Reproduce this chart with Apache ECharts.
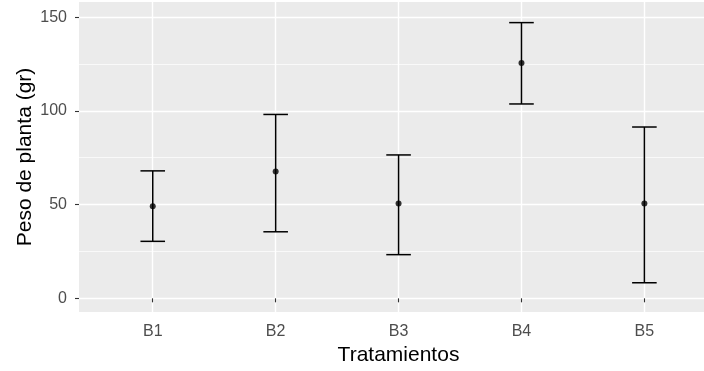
<!DOCTYPE html>
<html>
<head>
<meta charset="utf-8">
<script src="https://cdn.jsdelivr.net/npm/echarts@6/dist/echarts.min.js"></script>
<style>
  html, body { margin: 0; padding: 0; background: #ffffff; }
  #chart { width: 704px; height: 371px; }
</style>
</head>
<body>
<div id="chart"></div>
<script>
// ---- data ----
const categories = ['B1', 'B2', 'B3', 'B4', 'B5'];
const meanValues = [49.1, 67.6, 50.6, 125.5, 50.6];
const lowerValues = [30.4, 35.5, 23.3, 103.7, 8.3];
const upperValues = [68.0, 98.1, 76.5, 147.1, 91.4];
const yMajorTicks = [0, 50, 100, 150];
const yMinorTicks = [25, 75, 125];
const xAxisTitle = 'Tratamientos';
const yAxisTitle = 'Peso de planta (gr)';

const xPositions = categories.map((c, i) => i + 1);
const pointData = categories.map((c, i) => [i + 1, meanValues[i]]);
const barData = categories.map((c, i) => [i + 1, lowerValues[i], upperValues[i]]);

const FONT = '"Liberation Sans", Arial, sans-serif';
const chart = echarts.init(document.getElementById('chart'), null, { renderer: 'canvas' });

chart.setOption({
  animation: false,
  backgroundColor: '#ffffff',
  grid: {
    left: 79, top: 2, right: 0, bottom: 58.3,
    show: true, backgroundColor: '#EBEBEB', borderWidth: 0
  },
  xAxis: {
    type: 'value',
    min: 0.4, max: 5.485,
    axisLine: { show: false },
    axisTick: { show: true, length: 4, customValues: xPositions, lineStyle: { color: '#333333', width: 1.1 } },
    axisLabel: {
      customValues: xPositions,
      formatter: v => categories[Math.round(v) - 1] || '',
      color: '#4D4D4D', fontSize: 16, fontFamily: FONT, margin: 12
    },
    splitLine: { show: true, lineStyle: { color: '#ffffff', width: 1.4 } },
    name: xAxisTitle, nameLocation: 'middle', nameGap: 33,
    nameTextStyle: { color: '#000000', fontSize: 21, fontFamily: FONT, padding: [0, 0, 0, 14] }
  },
  yAxis: [{
    type: 'value',
    min: -7.3, max: 158.1,
    axisLine: { show: false },
    axisTick: { show: true, length: 4, customValues: yMajorTicks, lineStyle: { color: '#333333', width: 1.1 } },
    axisLabel: {
      customValues: yMajorTicks,
      color: '#4D4D4D', fontSize: 16, fontFamily: FONT, margin: 12
    },
    splitLine: { show: true, lineStyle: { color: '#ffffff', width: 1.4 } },
    name: yAxisTitle, nameLocation: 'middle', nameGap: 43, nameRotate: 90,
    nameMoveOverlap: false,
    nameTextStyle: { color: '#000000', fontSize: 21, fontFamily: FONT }
  }, {
    type: 'value',
    position: 'left',
    min: -7.3, max: 158.1,
    axisLine: { show: false },
    axisTick: { show: false, customValues: yMinorTicks },
    axisLabel: { show: false, customValues: yMinorTicks },
    splitLine: { show: true, lineStyle: { color: '#ffffff', width: 0.7 } }
  }],
  series: [{
    type: 'custom',
    yAxisIndex: 0,
    data: barData,
    renderItem: function (params, api) {
      const x = api.value(0);
      const lo = api.coord([x, api.value(1)]);
      const hi = api.coord([x, api.value(2)]);
      const half = api.size([0.1, 0])[0];
      const style = { stroke: '#000000', lineWidth: 1.5, fill: null };
      return {
        type: 'group',
        children: [
          { type: 'line', shape: { x1: lo[0], y1: lo[1], x2: hi[0], y2: hi[1] }, style: style },
          { type: 'line', shape: { x1: hi[0] - half, y1: hi[1], x2: hi[0] + half, y2: hi[1] }, style: style },
          { type: 'line', shape: { x1: lo[0] - half, y1: lo[1], x2: lo[0] + half, y2: lo[1] }, style: style }
        ]
      };
    },
    z: 3
  }, {
    type: 'scatter',
    yAxisIndex: 0,
    data: pointData,
    symbol: 'circle',
    symbolSize: 6,
    itemStyle: { color: '#000000' },
    z: 4
  }]
});
</script>
</body>
</html>
